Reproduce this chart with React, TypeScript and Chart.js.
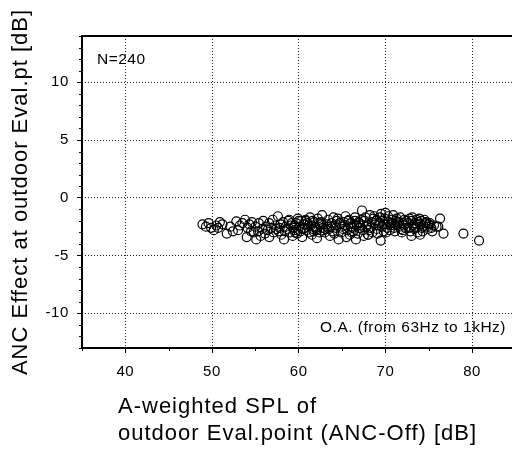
import React, { useEffect, useRef } from 'react';
import { Chart, registerables } from 'chart.js';

Chart.register(...registerables);

// A-weighted SPL at outdoor evaluation point (ANC-Off) [dB]
const splAOff: number[] = [
  48.9, 49.3, 49.6, 49.9, 50.2, 50.5, 50.7, 50.9, 51.2, 51.7, 52.1, 52.4,
  52.8, 53.0, 53.2, 53.5, 53.8, 54.0, 54.1, 54.3, 54.5, 54.6,
  54.8, 55.0, 55.1, 55.3, 55.4, 55.6, 55.8, 55.9, 56.1, 56.2,
  56.4, 56.6, 56.6, 56.8, 57.0, 57.1, 57.3, 57.4,
  57.6, 57.9, 57.7, 58.2, 58.0, 58.5, 58.3, 58.8, 58.6, 59.1,
  59.0, 58.9, 59.4, 59.3, 59.7, 59.5, 59.9, 60.1, 59.8, 60.3,
  60.2, 60.6, 60.4, 60.8, 60.7, 61.0, 61.2, 60.9, 61.4, 61.3,
  61.6, 61.5, 61.8, 61.9, 62.1, 61.7, 62.3, 62.0, 62.4, 62.2,
  57.8, 58.4, 59.2, 59.6, 60.0, 60.5, 61.1, 61.6, 62.1, 62.5,
  62.6, 62.8, 62.7, 63.0, 63.2, 62.9, 63.4, 63.3, 63.6, 63.8,
  63.5, 64.0, 63.9, 64.2, 64.1, 64.4, 64.3, 64.6, 64.8, 64.5,
  65.0, 64.9, 65.2, 65.1, 65.4, 65.5, 65.3, 65.7, 65.6, 65.9,
  66.0, 65.8, 66.2, 66.1, 66.4, 66.5, 66.3, 66.7, 66.6, 66.9,
  67.0, 66.8, 67.2, 67.1, 67.4, 67.3, 67.0, 66.5, 67.5, 63.7,
  67.6, 67.8, 67.7, 68.0, 67.9, 68.2, 68.1, 68.4, 68.3, 68.6,
  68.5, 68.8, 68.7, 69.0, 68.9, 69.2, 69.1, 69.4, 69.3, 69.6,
  69.5, 69.8, 69.7, 70.0, 69.9, 70.2, 70.1, 70.4, 70.3, 70.6,
  70.5, 70.8, 70.7, 71.0, 70.9, 71.2, 71.1, 71.4, 71.3, 71.6,
  71.5, 71.8, 71.7, 72.0, 71.9, 72.2, 72.1, 72.4, 72.3, 69.45,
  68.0, 70.0, 71.0, 72.0, 69.0,
  72.6, 72.8, 72.7, 73.0, 72.9, 73.2, 73.1, 73.4, 73.3, 73.6,
  73.5, 73.8, 73.7, 74.0, 73.9, 74.2, 74.1, 74.4, 74.3, 74.6,
  74.5, 74.8, 74.7, 75.0, 74.9, 75.3, 75.1, 75.6, 75.4, 75.9,
  76.1, 76.3, 76.7, 73.0, 74.0,
  79.0, 80.8,
  59.5, 60.8, 63.1, 64.7, 66.0, 69.8, 71.3, 73.4,
];

// ANC effect at outdoor evaluation point [dB]
const ancEffect: number[] = [
  -2.3, -2.5, -2.2, -2.6, -2.8, -2.4, -2.6, -2.1, -2.3, -3.1, -2.5, -2.9,
  -2.05, -2.8, -2.4, -2.2, -1.9, -3.4, -2.6, -2.3, -2.9, -2.1,
  -3.0, -2.5, -3.6, -2.9, -2.2, -3.3, -2.7, -2.0, -3.1, -2.5,
  -2.8, -3.4, -2.2, -2.6, -1.9, -3.0, -2.4, -2.7,
  -1.6, -2.3, -2.9, -2.1, -3.2, -2.5, -3.6, -2.0, -2.7, -2.4,
  -3.0, -1.9, -2.6, -3.3, -2.2, -2.8, -1.8, -2.5, -3.1, -2.0,
  -2.9, -2.3, -3.4, -1.9, -2.6, -2.2, -3.0, -2.8, -2.4, -1.7,
  -2.7, -3.2, -2.1, -2.5, -3.5, -2.9, -2.2, -2.6, -3.0, -1.8,
  -2.6, -2.9, -2.2, -3.0, -2.0, -2.7, -2.4, -2.0, -2.8, -2.3,
  -2.1, -2.6, -1.5, -3.0, -2.3, -2.8, -1.9, -2.5, -3.3, -2.2,
  -2.7, -1.7, -2.9, -2.4, -3.1, -2.0, -2.6, -3.6, -2.3, -1.8,
  -2.5, -3.0, -2.1, -2.7, -1.6, -3.4, -2.4, -2.0, -2.8, -3.2,
  -2.2, -1.9, -2.6, -3.0, -2.3, -1.7, -2.9, -2.4, -3.6, -2.1,
  -2.6, -3.1, -1.9, -2.4, -2.8, -1.1, -2.2, -2.0, -3.3, -2.5,
  -2.0, -2.5, -1.7, -3.2, -2.3, -1.5, -2.8, -2.1, -2.6, -1.8,
  -3.0, -2.2, -1.6, -2.7, -2.0, -2.4, -3.1, -1.7, -2.2, -2.5,
  -1.4, -2.9, -2.0, -2.3, -1.8, -2.6, -3.0, -2.1, -1.6, -2.4,
  -2.8, -1.9, -2.2, -2.6, -1.5, -2.0, -2.9, -2.3, -1.8, -2.5,
  -2.1, -2.7, -1.7, -2.2, -3.0, -1.9, -2.4, -2.0, -2.6, -3.7,
  -3.2, -1.3, -2.4, -2.8, -1.9,
  -2.2, -1.8, -2.6, -2.0, -2.9, -2.4, -1.7, -2.2, -2.7, -1.9,
  -2.5, -2.1, -3.0, -2.3, -1.8, -2.6, -2.0, -2.4, -2.9, -2.2,
  -1.9, -2.5, -2.1, -2.3, -2.7, -2.6, -2.2, -2.4, -2.9, -2.5,
  -2.5, -1.8, -3.1, -3.3, -3.2,
  -3.1, -3.7,
  -2.4, -2.0, -2.7, -2.2, -2.5, -2.3, -2.1, -2.6,
];

const xRange = [35, 84.6];
const yRange = [-13, 14];
const xTickValues = [40, 50, 60, 70, 80];
const yTickValues = [-10, -5, 0, 5, 10];
const xTitleLines = ['A-weighted SPL of', 'outdoor Eval.point (ANC-Off) [dB]'];
const yTitle = 'ANC Effect at outdoor Eval.pt [dB]';
const sampleLabel = 'N=240';
const bandLabel = 'O.A. (from 63Hz to 1kHz)';

const FONT = '"Liberation Sans", Arial, Helvetica, sans-serif';

const framePlugin = {
  id: 'frame',
  beforeDraw(chart: any) {
    chart.ctx.letterSpacing = '0.6px';
  },
  afterDraw(chart: any) {
    const { ctx, chartArea: a, scales } = chart;
    const xs = scales.x;
    const ys = scales.y;
    ctx.save();
    ctx.strokeStyle = '#000';
    ctx.fillStyle = '#000';
    ctx.setLineDash([]);
    ctx.lineWidth = 1;
    ctx.beginPath();
    for (let v = Math.ceil(xs.min / 5) * 5; v <= xs.max; v += 5) {
      if (v % 10 === 0) continue;
      const p = Math.round(xs.getPixelForValue(v)) + 0.5;
      ctx.moveTo(p, a.bottom);
      ctx.lineTo(p, a.bottom + 3);
    }
    for (let v = Math.ceil(ys.min); v <= ys.max; v += 1) {
      if (v % 5 === 0) continue;
      const p = Math.round(ys.getPixelForValue(v)) + 0.5;
      ctx.moveTo(a.left - 3, p);
      ctx.lineTo(a.left, p);
    }
    ctx.stroke();

    ctx.lineWidth = 2;
    ctx.beginPath();
    ctx.moveTo(a.right, a.top);
    ctx.lineTo(a.left, a.top);
    ctx.lineTo(a.left, a.bottom);
    ctx.lineTo(a.right, a.bottom);
    ctx.stroke();

    // annotations
    ctx.letterSpacing = '0.5px';
    ctx.font = `15.5px ${FONT}`;
    ctx.textBaseline = 'alphabetic';
    ctx.textAlign = 'left';
    ctx.fillText(sampleLabel, a.left + 15, a.top + 28);
    ctx.textAlign = 'right';
    ctx.fillText(bandLabel, a.right - 6, a.bottom - 16);

    // axis titles
    ctx.letterSpacing = '1px';
    ctx.font = `22px ${FONT}`;
    ctx.textAlign = 'left';
    ctx.fillText(xTitleLines[0], 118, 413);
    ctx.fillText(xTitleLines[1], 118, 440);

    ctx.save();
    ctx.translate(27, (a.top + a.bottom) / 2);
    ctx.rotate(-Math.PI / 2);
    ctx.textAlign = 'center';
    ctx.fillText(yTitle, 0, 0);
    ctx.restore();

    ctx.restore();
  },
};

export default function App() {
  const canvasRef = useRef<HTMLCanvasElement | null>(null);

  useEffect(() => {
    if (!canvasRef.current) return;
    const points = splAOff.map((x, i) => ({ x, y: ancEffect[i] }));
    const gridCommon = {
      color: '#222',
      lineWidth: 1,
      drawTicks: true,
      tickLength: 5,
      tickColor: '#000',
      tickWidth: 1,
    };
    const chart = new Chart(canvasRef.current, {
      type: 'scatter',
      data: {
        datasets: [
          {
            data: points,
            pointStyle: 'circle',
            pointRadius: 4.5,
            pointBorderWidth: 1.2,
            pointBorderColor: '#000',
            pointBackgroundColor: 'rgba(0,0,0,0)',
            showLine: false,
          },
        ],
      },
      options: {
        animation: false,
        responsive: false,
        devicePixelRatio: 1,
        layout: { padding: { top: 36, right: 0, left: 0, bottom: 0 }, autoPadding: false },
        plugins: {
          legend: { display: false },
          tooltip: { enabled: false },
          title: { display: false },
        },
        scales: {
          x: {
            type: 'linear',
            min: xRange[0],
            max: xRange[1],
            afterBuildTicks: (s: any) => {
              s.ticks = xTickValues.map((v) => ({ value: v }));
            },
            afterFit: (s: any) => {
              s.height = 102;
            },
            grid: gridCommon,
            border: { display: false, dash: [1, 2] },
            ticks: {
              color: '#000',
              font: { family: FONT, size: 15 },
              padding: 10,
              maxRotation: 0,
              autoSkip: false,
            },
          },
          y: {
            type: 'linear',
            min: yRange[0],
            max: yRange[1],
            afterBuildTicks: (s: any) => {
              s.ticks = yTickValues.map((v) => ({ value: v }));
            },
            afterFit: (s: any) => {
              s.width = 82;
            },
            grid: gridCommon,
            border: { display: false, dash: [1, 2] },
            ticks: {
              color: '#000',
              font: { family: FONT, size: 15 },
              padding: 8,
              autoSkip: false,
            },
          },
        },
      },
      plugins: [framePlugin],
    } as any);
    return () => chart.destroy();
  }, []);

  return (
    <div style={{ position: 'fixed', left: 0, top: 0, width: 512, height: 450, background: '#fff' }}>
      <canvas ref={canvasRef} width={512} height={450} style={{ display: 'block', width: 512, height: 450 }} />
    </div>
  );
}
